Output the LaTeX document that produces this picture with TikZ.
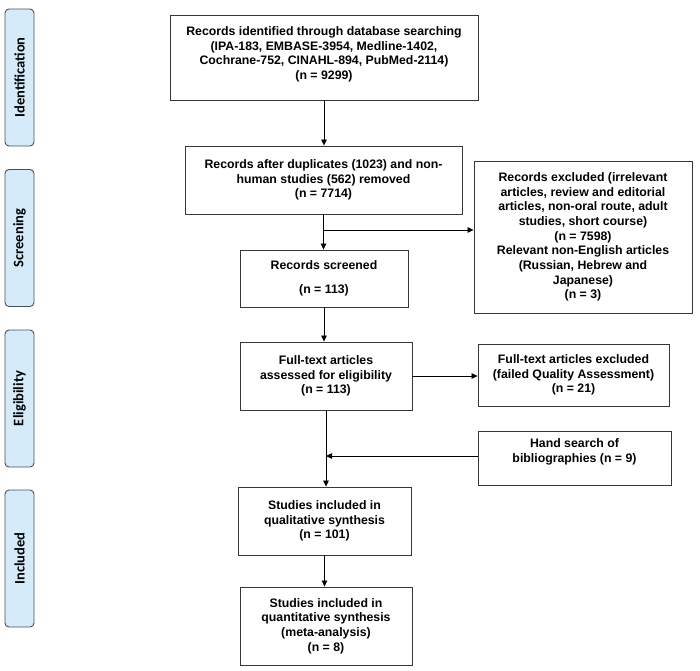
\documentclass[tikz,border=0pt]{standalone}
\usepackage{fontspec}
\setmainfont{Liberation Sans}
\newfontfamily\sidefont{Carlito}
\usetikzlibrary{arrows.meta}
\definecolor{sidefill}{RGB}{214,235,250}
\definecolor{sideline}{RGB}{70,80,90}
\definecolor{boxline}{RGB}{55,55,55}
\begin{document}
\begin{tikzpicture}[x=1pt,y=-1pt,
  box/.style={draw=boxline,line width=0.9pt,align=center,inner sep=2pt,
    font=\fontsize{12.3}{14.7}\selectfont\bfseries},
  side/.style={draw=sideline,fill=sidefill,line width=0.9pt,rounded corners=4pt,
    minimum width=29pt,minimum height=137pt,inner sep=0pt},
  sidetext/.style={rotate=90,font=\fontsize{14.5}{16}\selectfont\sidefont\bfseries},
  arr/.style={draw=black,line width=0.8pt,-{Triangle[width=5.5pt,length=6pt]}},
  ln/.style={draw=black,line width=0.8pt}]
\useasboundingbox (0,0) rectangle (700,670);
% side labels
\node[side] (s1) at (19.5,77.5) {};
\node[sidetext] (t1) at (s1) {Identification};
\node[side] (s2) at (19.5,238) {};
\node[sidetext] (t2) at (s2) {Screening};
\node[side] (s3) at (19.5,398.5) {};
\node[sidetext] (t3) at (s3) {Eligibility};
\node[side] (s4) at (19.5,558.5) {};
\node[sidetext] (t4) at (s4) {Included};
% boxes
\node[box,minimum width=308pt,minimum height=85pt] (b1) at (324,57.5)
  {Records identified through database searching\\(IPA-183, EMBASE-3954, Medline-1402,\\Cochrane-752, CINAHL-894, PubMed-2114)\\(n = 9299)\\[-6pt]\mbox{}};
\node[box,minimum width=277pt,minimum height=68pt] (b2) at (323.5,180)
  {Records after duplicates (1023) and non-\\human studies (562) removed\\(n = 7714)};
\node[box,minimum width=168pt,minimum height=57pt] (b3) at (324,278.5)
  {Records screened\\[9pt](n = 113)};
\node[box,minimum width=218pt,minimum height=152pt] (b4) at (583,237)
  {Records excluded (irrelevant\\articles, review and editorial\\articles, non-oral route, adult\\studies, short course)\\(n = 7598)\\Relevant non-English articles\\(Russian, Hebrew and\\Japanese)\\(n = 3)};
\node[box,minimum width=172pt,minimum height=68pt] (b5) at (326,376)
  {Full-text articles\\assessed for eligibility\\(n = 113)};
\node[box,minimum width=191pt,minimum height=62pt] (b6) at (573.5,375)
  {Full-text articles excluded\\(failed Quality Assessment)\\(n = 21)};
\node[box,minimum width=193pt,minimum height=54pt] (b7) at (574.5,458)
  {Hand search of\\bibliographies (n = 9)\\\mbox{}};
\node[box,minimum width=173pt,minimum height=68pt] (b8) at (324.5,521)
  {Studies included in\\qualitative synthesis\\(n = 101)};
\node[box,minimum width=172pt,minimum height=78pt] (b9) at (326,626)
  {Studies included in\\quantitative synthesis\\(meta-analysis)\\(n = 8)};
% connectors
\draw[arr] (b1.south) -- (b1.south |- b2.north);
\draw[arr] (b2.south) -- (b2.south |- b3.north);
\coordinate (br) at (324,230);
\draw[arr] (br) -- (br -| b4.west);
\draw[arr] (b3.south) -- (b3.south |- b5.north);
\draw[arr] (b5.east) -- (b5.east -| b6.west);
\draw[arr] (b5.south) -- (b5.south |- b8.north);
\coordinate (hs) at (326,456);
\draw[arr] (b7.west |- hs) -- (hs);
\draw[arr] (b8.south) -- (b8.south |- b9.north);
\end{tikzpicture}
\end{document}
